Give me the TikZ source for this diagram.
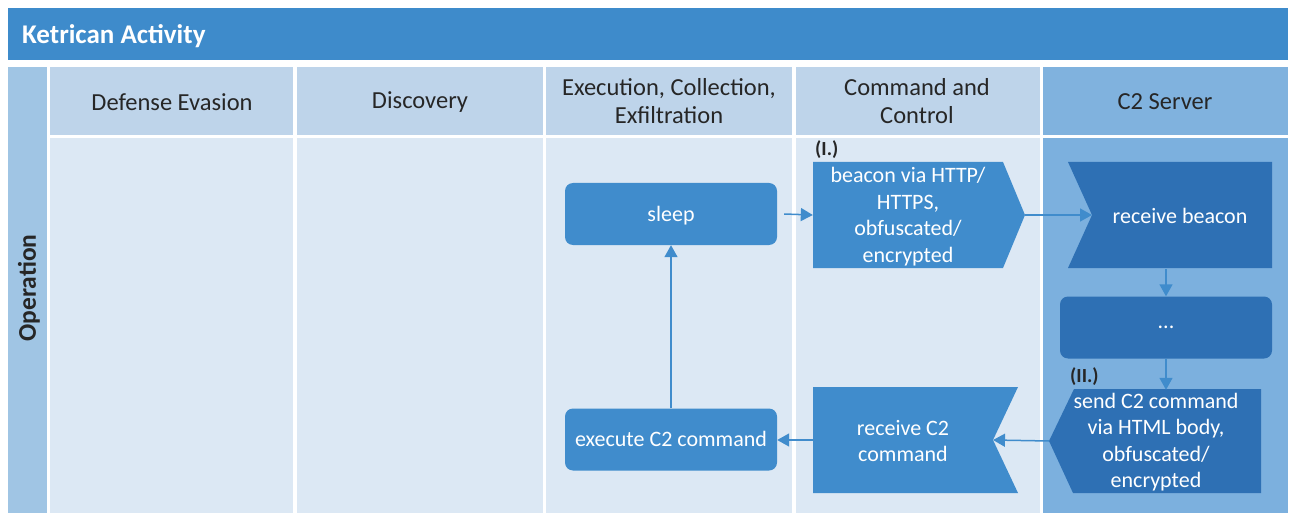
\documentclass[tikz,border=0pt]{standalone}
\usepackage{fontspec}
\setmainfont{Carlito}
\usetikzlibrary{arrows.meta,calc}
\definecolor{titleblue}{RGB}{62,139,203}
\definecolor{lanecol}{RGB}{160,197,228}
\definecolor{headcol}{RGB}{190,212,234}
\definecolor{bodycol}{RGB}{220,232,244}
\definecolor{srvhead}{RGB}{128,178,222}
\definecolor{srvbody}{RGB}{124,176,222}
\definecolor{medbox}{RGB}{64,140,204}
\definecolor{darkbox}{RGB}{46,112,180}
\tikzset{
  headtxt/.style={font=\fontsize{24.5}{28}\selectfont, text=black!85, align=center},
  boxtxt/.style={font=\fontsize{22}{26.5}\selectfont, text=white, align=center, inner sep=0pt},
  roundbox/.style={boxtxt, rounded corners=8pt, minimum width=212pt, minimum height=62pt, text depth=1pt},
  conn/.style={draw=medbox, line width=1.5pt, -{Triangle[length=12pt,width=13pt]}},
  tag/.style={font=\bfseries\fontsize{20}{22}\selectfont, text=black!85, inner sep=0pt}
}
\begin{document}
\begin{tikzpicture}[x=1pt,y=-1pt]
\useasboundingbox (0,0) rectangle (1290,513);
\fill[white] (0,0) rectangle (1290,513);
% title
\fill[titleblue] (8,8) rectangle (1288,60);
\node[anchor=west, font=\bfseries\fontsize{27}{30}\selectfont, text=white, inner sep=0pt] (title) at (22,36) {Ketrican Activity};
% lane
\fill[lanecol] (8,67) rectangle (47,513);
\node[rotate=90, font=\bfseries\fontsize{25.5}{28}\selectfont, text=black!85] (op) at (29,288) {Operation};
% columns
\foreach \a/\b in {50/293,297/543,546/792,796/1040}{
  \fill[headcol] (\a,67) rectangle (\b,135);
  \fill[bodycol] (\a,138) rectangle (\b,513);
}
\fill[srvhead] (1043,67) rectangle (1288,135);
\fill[srvbody] (1043,138) rectangle (1288,513);
\node[headtxt] (h1) at (172,102) {Defense Evasion};
\node[headtxt] (h2) at (420,102) {Discovery};
\node[headtxt] (h3) at (669,101) {Execution, Collection,\\Exfiltration};
\node[headtxt] (h4) at (917,101) {Command and\\Control};
\node[headtxt] (h5) at (1165,102) {C2 Server};
% shapes
\fill[medbox] (813,162) -- (1003,162) -- (1025,215) -- (1003,268) -- (813,268) -- cycle;
\fill[darkbox] (1068,162) -- (1272,162) -- (1272,268) -- (1068,268) -- (1092,215) -- cycle;
\fill[darkbox] (1074,389) -- (1261,389) -- (1261,493) -- (1073,493) -- (1049,441) -- cycle;
\fill[medbox] (813,387) -- (1018,387) -- (993,440) -- (1018,493) -- (813,493) -- cycle;
\coordinate (beacontip) at (1025,215);
\coordinate (rbnotch) at (1092,215);
\coordinate (sendtip) at (1049,441);
\coordinate (rcnotch) at (993,440);
% nodes
\node[roundbox, fill=medbox] (sleep) at (671,214) {sleep};
\node[boxtxt, minimum width=190pt, minimum height=106pt] (beacon) at (908,216.5) {beacon via HTTP/\\HTTPS,\\obfuscated/\\encrypted};
\node[boxtxt, minimum width=204pt, minimum height=106pt] (rb) at (1180,216) {receive beacon};
\node[roundbox, fill=darkbox] (dots) at (1166,327.5) {...};
\node[boxtxt, minimum width=212pt, minimum height=104pt] (send) at (1156,442) {send C2 command\\via HTML body,\\obfuscated/\\encrypted};
\node[boxtxt, minimum width=180pt, minimum height=106pt] (rc) at (903,441) {receive C2\\command};
\node[roundbox, fill=medbox] (exec) at (671,439.5) {execute C2 command};
\node[tag, anchor=west] (t1) at (815,150) {(I.)};
\node[tag, anchor=west] (t2) at (1070,377) {(II.)};
% connectors
\draw[conn] ($(sleep.east)+(7,0)$) -- (beacon.west |- beacontip);
\draw[conn] (beacontip) -- (rbnotch);
\draw[conn] (rb.south -| dots.north) -- (dots.north);
\draw[conn] (dots.south) -- (dots.south |- send.north);
\draw[conn] (sendtip) -- (rcnotch);
\draw[conn] (rc.west |- rcnotch) -- (exec.east |- rcnotch);
\draw[conn] (exec.north) -- (sleep.south);
\end{tikzpicture}
\end{document}
